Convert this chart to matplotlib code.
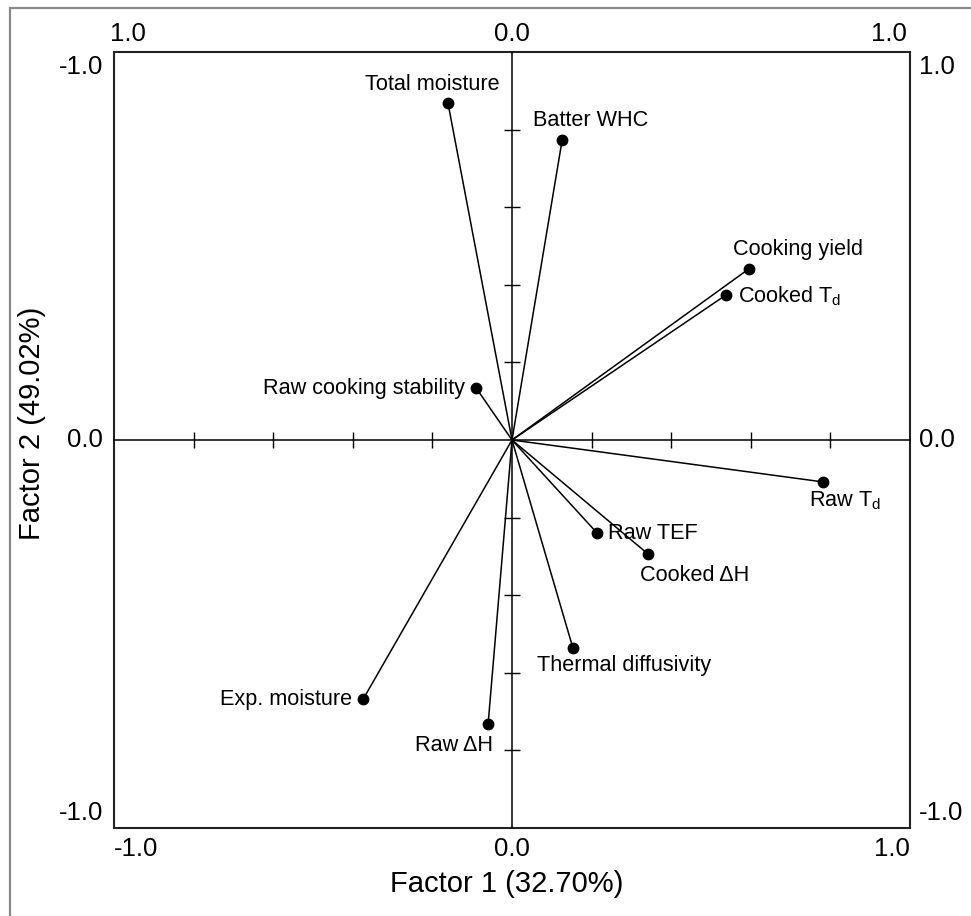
import matplotlib
matplotlib.use("Agg")
import matplotlib.pyplot as plt
from matplotlib.patches import Rectangle
import numpy as np

plt.rcParams["font.family"] = ["Liberation Sans", "DejaVu Sans"]
plt.rcParams["mathtext.fontset"] = "custom"
plt.rcParams["mathtext.rm"] = "Liberation Sans"
plt.rcParams["mathtext.it"] = "Liberation Sans"

# ---- data (factor loadings) ----
variables = ["Total moisture", "Batter WHC", "Cooking yield", r"Cooked T$_\mathregular{d}$",
             "Raw cooking stability", r"Raw T$_\mathregular{d}$", "Raw TEF", "Cooked ΔH",
             "Thermal diffusivity", "Exp. moisture", "Raw ΔH"]
factor1 = [-0.161, 0.126, 0.595, 0.538, -0.090, 0.781, 0.214, 0.342, 0.153, -0.374, -0.060]
factor2 = [0.869, 0.773, 0.441, 0.374, 0.134, -0.108, -0.240, -0.294, -0.536, -0.668, -0.732]

xlabel = "Factor 1 (32.70%)"
ylabel = "Factor 2 (49.02%)"
bottom_ticklabels = ["-1.0", "0.0", "1.0"]
top_ticklabels = ["1.0", "0.0", "1.0"]
left_ticklabels = ["-1.0", "0.0", "-1.0"]   # bottom, middle, top
right_ticklabels = ["-1.0", "0.0", "1.0"]   # bottom, middle, top
inner_ticks = [-0.8, -0.6, -0.4, -0.2, 0.2, 0.4, 0.6, 0.8]

# label placement (pixel offsets from the point, horizontal alignment)
label_style = [(52, 18, "right"), (-29, 20, "left"), (-16, 19, "left"), (12, -1, "left"),
               (-11, 0, "right"), (-14, -19, "left"), (11, 0, "left"), (-8, -21, "left"),
               (-36, -18, "left"), (-11, 0, "right"), (5, -21, "right")]

W, H = 971, 916
fig = plt.figure(figsize=(W / 100, H / 100), dpi=100)
rect = [114 / W, (H - 828) / H, 796 / W, 776 / H]

# outer grey frame
fig.add_artist(Rectangle((10 / W, -0.05), 1.2, 1 - 8 / H + 0.05, transform=fig.transFigure,
                         fill=False, edgecolor="#8a8a8a", linewidth=1.6, clip_on=False))

ax = fig.add_axes(rect)
ax.set_xlim(-1, 1)
ax.set_ylim(-1, 1)
ax.set_xticks([])
ax.set_yticks([])
for s in ax.spines.values():
    s.set_linewidth(1.5)
    s.set_color("#222222")

# center axes with cross ticks
axc = fig.add_axes(rect)
axc.set_xlim(-1, 1)
axc.set_ylim(-1, 1)
axc.patch.set_visible(False)
axc.spines["top"].set_visible(False)
axc.spines["right"].set_visible(False)
axc.spines["left"].set_position(("data", 0))
axc.spines["bottom"].set_position(("data", 0))
for s in ("left", "bottom"):
    axc.spines[s].set_linewidth(1.1)
axc.set_xticks(inner_ticks)
axc.set_yticks(inner_ticks)
axc.tick_params(direction="inout", length=12, width=1.0, labelbottom=False, labelleft=False)

# vectors
for x, y in zip(factor1, factor2):
    ax.plot([0, x], [0, y], color="black", linewidth=1.1, zorder=3)
ax.plot(factor1, factor2, "o", color="black", markersize=7.5, zorder=4, linestyle="none")

for name, x, y, (dx, dy, ha) in zip(variables, factor1, factor2, label_style):
    ax.annotate(name, (x, y), xytext=(dx, dy), textcoords="offset pixels",
                ha=ha, va="center", fontsize=15.6, zorder=5)

# box tick labels
tfs = 18.5
for lab, xf, ha in zip(bottom_ticklabels, [0, 0.5, 1], ["left", "center", "right"]):
    ax.annotate(lab, (xf, 0), xycoords="axes fraction", xytext=(0, -9), textcoords="offset pixels",
                ha=ha, va="top", fontsize=tfs)
for lab, xf, ha, dx in zip(top_ticklabels, [0, 0.5, 1], ["left", "center", "right"], [-4, 0, -3]):
    ax.annotate(lab, (xf, 1), xycoords="axes fraction", xytext=(dx, 6), textcoords="offset pixels",
                ha=ha, va="bottom", fontsize=tfs)
for lab, yf, va, dy in zip(left_ticklabels, [0, 0.5, 1], ["bottom", "center", "top"], [3, 0, -3]):
    ax.annotate(lab, (0, yf), xycoords="axes fraction", xytext=(-11, dy), textcoords="offset pixels",
                ha="right", va=va, fontsize=tfs)
for lab, yf, va, dy in zip(right_ticklabels, [0, 0.5, 1], ["bottom", "center", "top"], [3, 0, -3]):
    ax.annotate(lab, (1, yf), xycoords="axes fraction", xytext=(9, dy), textcoords="offset pixels",
                ha="left", va=va, fontsize=tfs)

fig.text(507 / W, 1 - 884 / H, xlabel, ha="center", va="center", fontsize=21)
fig.text(32 / W, 1 - 423 / H, ylabel, ha="center", va="center", rotation=90, fontsize=21)

fig.savefig("out.png", dpi=100)
